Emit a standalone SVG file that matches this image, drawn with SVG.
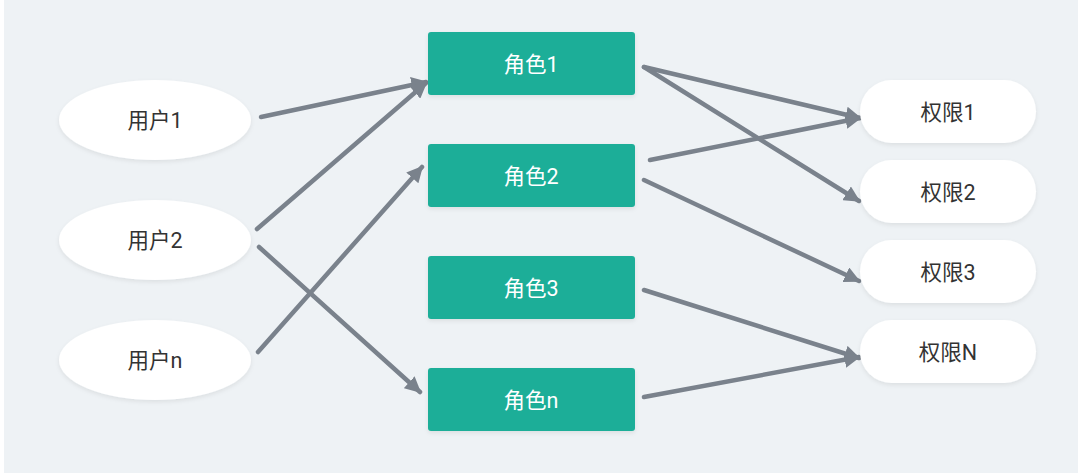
<svg xmlns="http://www.w3.org/2000/svg" width="1080" height="476" viewBox="0 0 1080 476">
<style>
.ell{fill:#ffffff;filter:url(#sh);}
.role{fill:#1fae98;filter:url(#sh);}
.perm{fill:#ffffff;filter:url(#sh);}
.t{font-family:"Roboto","Noto Sans CJK SC",sans-serif;font-size:21.5px;text-anchor:middle;dominant-baseline:central;}
.dark{fill:#333333;}
.light{fill:#ffffff;}
.c line{stroke:#7a828c;stroke-width:4.5;stroke-linecap:round;marker-end:url(#ah);}
</style>
<defs>
<filter id="sh" x="-20%" y="-30%" width="140%" height="160%">
<feDropShadow dx="0" dy="2" stdDeviation="2" flood-color="#000000" flood-opacity="0.08"/>
</filter>
<marker id="ah" viewBox="0 0 10 10" refX="9" refY="5" markerWidth="3.6" markerHeight="3.6" orient="auto" markerUnits="strokeWidth">
<path d="M0,0 L10,5 L0,10 Z" fill="#7a828c"/>
</marker>
</defs>
<rect x="0" y="0" width="1080" height="476" fill="#ffffff"/>
<rect x="4" y="0" width="1074" height="473" fill="#eef2f5"/>
<g class="c" id="connectors">
<line x1="261" y1="117" x2="426" y2="82"/>
<line x1="257" y1="229" x2="426" y2="83"/>
<line x1="259" y1="247" x2="420" y2="392"/>
<line x1="258" y1="352" x2="422" y2="167"/>
<line x1="644" y1="67" x2="860" y2="118"/>
<line x1="644" y1="67" x2="859" y2="201"/>
<line x1="650" y1="160" x2="860" y2="118"/>
<line x1="644" y1="180" x2="859" y2="281"/>
<line x1="644" y1="290" x2="859" y2="358"/>
<line x1="644" y1="397" x2="859" y2="357"/>
</g>
<g id="user1"><ellipse class="ell" cx="155" cy="120" rx="96" ry="40"/><text class="t dark" x="155" y="120">用户1</text></g>
<g id="user2"><ellipse class="ell" cx="155" cy="240" rx="96" ry="40"/><text class="t dark" x="155" y="240">用户2</text></g>
<g id="usern"><ellipse class="ell" cx="155" cy="360" rx="96" ry="40"/><text class="t dark" x="155" y="360">用户n</text></g>
<g id="role1"><rect class="role" x="428" y="32" width="207" height="63" rx="3"/><text class="t light" x="531" y="64">角色1</text></g>
<g id="role2"><rect class="role" x="428" y="144" width="207" height="63" rx="3"/><text class="t light" x="531" y="176">角色2</text></g>
<g id="role3"><rect class="role" x="428" y="256" width="207" height="63" rx="3"/><text class="t light" x="531" y="288">角色3</text></g>
<g id="rolen"><rect class="role" x="428" y="368" width="207" height="63" rx="3"/><text class="t light" x="531" y="400">角色n</text></g>
<g id="perm1"><rect class="perm" x="860" y="80" width="176" height="63" rx="31.5"/><text class="t dark" x="948" y="112">权限1</text></g>
<g id="perm2"><rect class="perm" x="860" y="160" width="176" height="63" rx="31.5"/><text class="t dark" x="948" y="192">权限2</text></g>
<g id="perm3"><rect class="perm" x="860" y="240" width="176" height="63" rx="31.5"/><text class="t dark" x="948" y="272">权限3</text></g>
<g id="permN"><rect class="perm" x="860" y="320" width="176" height="63" rx="31.5"/><text class="t dark" x="948" y="352">权限N</text></g>
</svg>
